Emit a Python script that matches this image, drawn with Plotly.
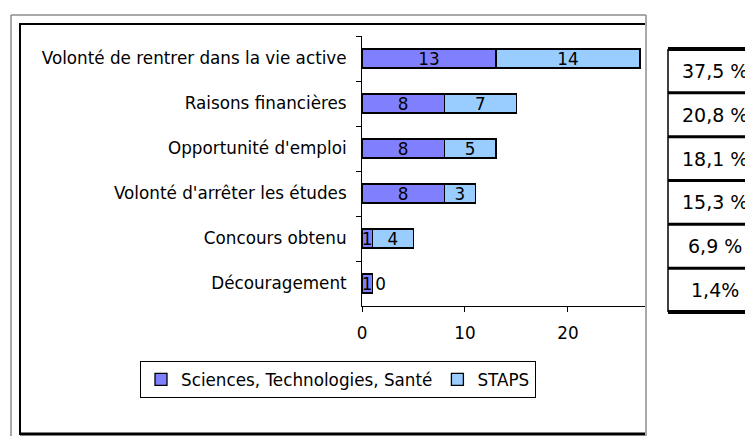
import plotly.graph_objects as go

categories = [
    "Volonté de rentrer dans la vie active",
    "Raisons financières",
    "Opportunité d'emploi",
    "Volonté d'arrêter les études",
    "Concours obtenu",
    "Découragement",
]
sts_values = [13, 8, 8, 8, 1, 1]
staps_values = [14, 7, 5, 3, 4, 0]
percent_labels = ["37,5 %", "20,8 %", "18,1 %", "15,3 %", "6,9 %", "1,4%"]
x_ticks = [0, 10, 20]

# page body margin offsets the figure by 8 px; positions below are screen pixels
OFF = 8
W_FIG, H_FIG = 753, 436
PW, PH = 283, 270
L = 362 - OFF
T = 36 - OFF
R = W_FIG - L - PW
B = H_FIG - T - PH


def px(x):
    return (x - OFF - L) / PW


def py(y):
    return (T + PH - (y - OFF)) / PH


FONT = "DejaVu Sans"
FS = 16.8

fig = go.Figure()
fig.add_trace(go.Bar(
    y=categories, x=sts_values, orientation="h",
    name="Sciences, Technologies, Santé",
    marker=dict(color="#8080FF", line=dict(color="black", width=1.3)),
    text=[str(v) for v in sts_values],
    textposition="inside", insidetextanchor="middle", constraintext="none",
    textangle=0,
    textfont=dict(color="black", size=FS, family=FONT),
    cliponaxis=False,
))
fig.add_trace(go.Bar(
    y=categories, x=staps_values, orientation="h",
    name="STAPS",
    marker=dict(color="#99CCFF", line=dict(color="black", width=1.3)),
    text=[str(v) for v in staps_values],
    textposition=["inside" if v > 0 else "outside" for v in staps_values],
    insidetextanchor="middle", constraintext="none",
    textangle=0,
    textfont=dict(color="black", size=FS, family=FONT),
    cliponaxis=False,
))

fig.update_layout(
    width=W_FIG, height=H_FIG,
    margin=dict(l=L, r=R, t=T, b=B, pad=0),
    paper_bgcolor="white", plot_bgcolor="white",
    barmode="stack", bargap=0.58,
    font=dict(family=FONT, size=FS, color="black"),
    showlegend=True,
    legend=dict(
        orientation="h", traceorder="normal",
        x=px(140), y=py(361), xanchor="left", yanchor="top",
        bordercolor="black", borderwidth=1, bgcolor="white",
        font=dict(family=FONT, size=FS, color="black"),
        itemwidth=30,
    ),
)
fig.update_xaxes(
    range=[0, 27.48],
    tickvals=x_ticks, ticks="outside", ticklen=5, tickcolor="black",
    showline=True, linecolor="black", linewidth=1,
    showgrid=False, zeroline=False, ticklabelstandoff=7,
    tickfont=dict(family=FONT, size=FS, color="black"),
)
fig.update_yaxes(
    categoryorder="array", categoryarray=categories, autorange="reversed",
    tickson="boundaries", ticks="outside", ticklen=5, tickcolor="black",
    showline=True, linecolor="black", linewidth=1,
    showgrid=False, zeroline=False, ticklabelstandoff=11,
    tickfont=dict(family=FONT, size=FS, color="black"),
)


def hline(x0, x1, y, color, w):
    return dict(type="line", xref="paper", yref="paper", x0=px(x0), x1=px(x1),
                y0=py(y), y1=py(y), line=dict(color=color, width=w))


def vline(x, y0, y1, color, w):
    return dict(type="line", xref="paper", yref="paper", x0=px(x), x1=px(x),
                y0=py(y0), y1=py(y1), line=dict(color=color, width=w))


shapes = []
# outer gray frame
shapes.append(hline(11, 646, 15, "#8c8c8c", 1.5))
shapes.append(vline(11, 15, 440, "#8c8c8c", 1.5))
shapes.append(vline(646, 15, 440, "#8c8c8c", 1.5))
# inner black frame
shapes.append(hline(20, 645, 24, "black", 2))
shapes.append(vline(20, 23, 435, "black", 2))
shapes.append(hline(20, 645, 434, "black", 3))

# percentage table
tbl_left, tbl_right = 668, 752
tbl_top, tbl_bottom = 49, 312
row_h = (tbl_bottom - tbl_top) / len(percent_labels)
for i in range(len(percent_labels) + 1):
    yy = tbl_top + i * row_h
    w = 4 if i in (0, len(percent_labels)) else 3
    shapes.append(hline(tbl_left, tbl_right + 2, yy, "black", w))
shapes.append(vline(tbl_left, tbl_top, tbl_bottom, "black", 1.5))
shapes.append(vline(tbl_right, tbl_top, tbl_bottom, "black", 3))
fig.update_layout(shapes=shapes)

annotations = []
for i, lab in enumerate(percent_labels):
    yc = tbl_top + (i + 0.5) * row_h
    annotations.append(dict(
        xref="paper", yref="paper", x=px(715), y=py(yc), text=lab,
        showarrow=False, xanchor="center", yanchor="middle",
        font=dict(family=FONT, size=19, color="black"),
    ))
fig.update_layout(annotations=annotations)

fig.write_html("out.html")
